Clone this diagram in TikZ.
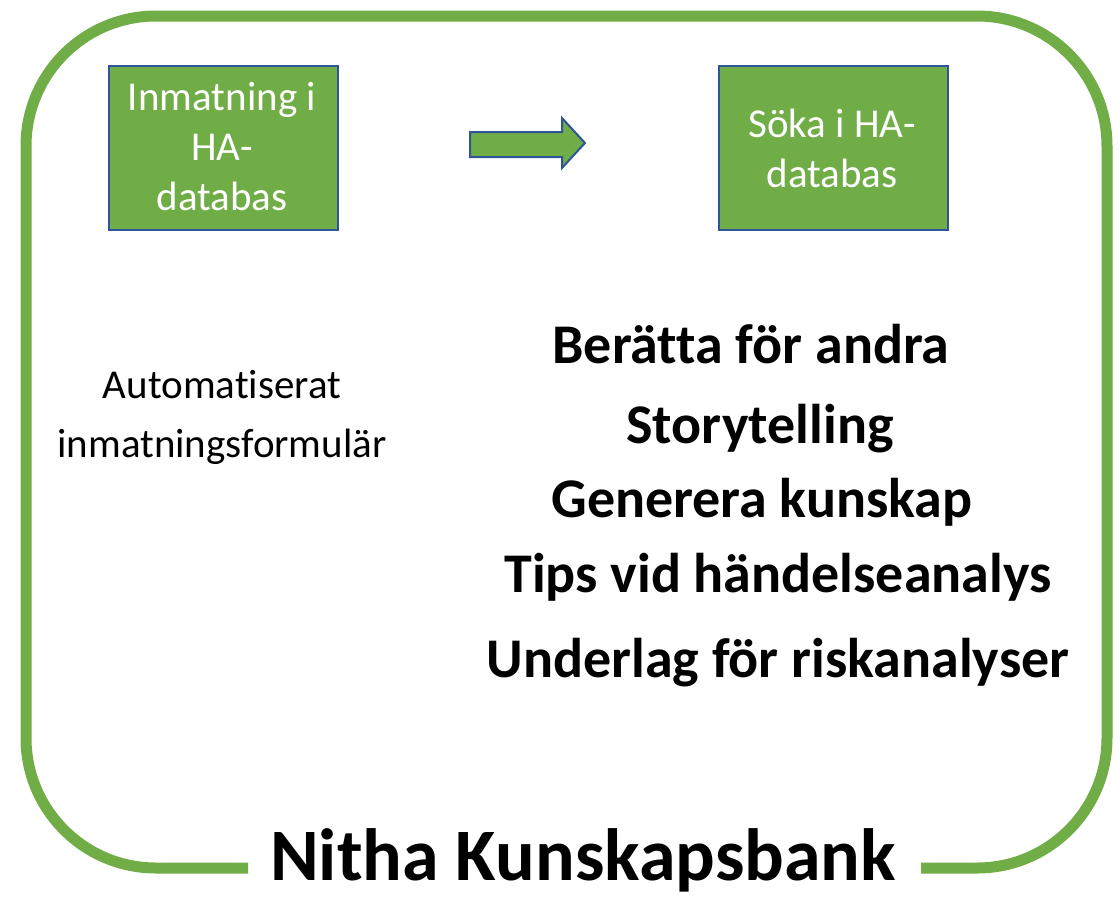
\documentclass[tikz,border=0pt]{standalone}
\usepackage{fontspec}
\setmainfont{Carlito}[RawFeature={-liga,-calt,-clig,-dlig}]
\definecolor{pgreen}{HTML}{70AD47}
\definecolor{pblue}{HTML}{2F5597}
\begin{document}
\begin{tikzpicture}[x=1pt,y=-1pt,
  gbox/.style={draw=pblue,line width=2pt,fill=pgreen,minimum width=229pt,minimum height=164pt,anchor=north west,inner sep=0pt},
  boxtext/.style={text=white,font=\fontsize{41}{50}\selectfont,anchor=base,inner sep=0pt},
  plain/.style={text=black,font=\fontsize{41}{50}\selectfont,anchor=base,inner sep=0pt},
  boldline/.style={text=black,font=\fontsize{56}{60}\selectfont\bfseries,anchor=base,inner sep=0pt},
  title/.style={text=black,font=\fontsize{74}{80}\selectfont\bfseries,anchor=base,inner sep=0pt}]
\useasboundingbox (0,0) rectangle (1120,898);
% frame
\draw[pgreen,line width=11pt,rounded corners=130pt] (248,868) -- (26,868) -- (26,16) -- (1107,16) -- (1107,868) -- (921,868);
% boxes
\node[gbox] (inbox) at (108,65) {};
\node[gbox] (sokbox) at (718,65) {};
\node[boxtext] (in1) at (222,110) {Inmatning i};
\node[boxtext] (in2) at (222,160) {HA-};
\node[boxtext] (in3) at (222,210) {databas};
\node[boxtext] (so1) at (832,137) {Söka i HA-};
\node[boxtext] (so2) at (832,187) {databas};
% arrow
\draw[pblue,line width=2pt,fill=pgreen,line join=miter] (470,132) -- (562,132) -- (562,118) -- (585,143) -- (562,168) -- (562,157) -- (470,157) -- cycle;
% left text
\node[plain] (au1) at (222,398) {Automatiserat};
\node[plain] (au2) at (222,457) {inmatningsformulär};
% bold list
\node[boldline] (b1) at (751,363) {Berätta för andra};
\node[boldline] (b2) at (760,443) {Storytelling};
\node[boldline] (b3) at (762,517) {Generera kunskap};
\node[boldline] (b4) at (778,592) {Tips vid händelseanalys};
\node[boldline] (b5) at (778,677) {Underlag för riskanalyser};
% title
\node[title] (tt) at (583,880) {Nitha Kunskapsbank};
\end{tikzpicture}
\end{document}
